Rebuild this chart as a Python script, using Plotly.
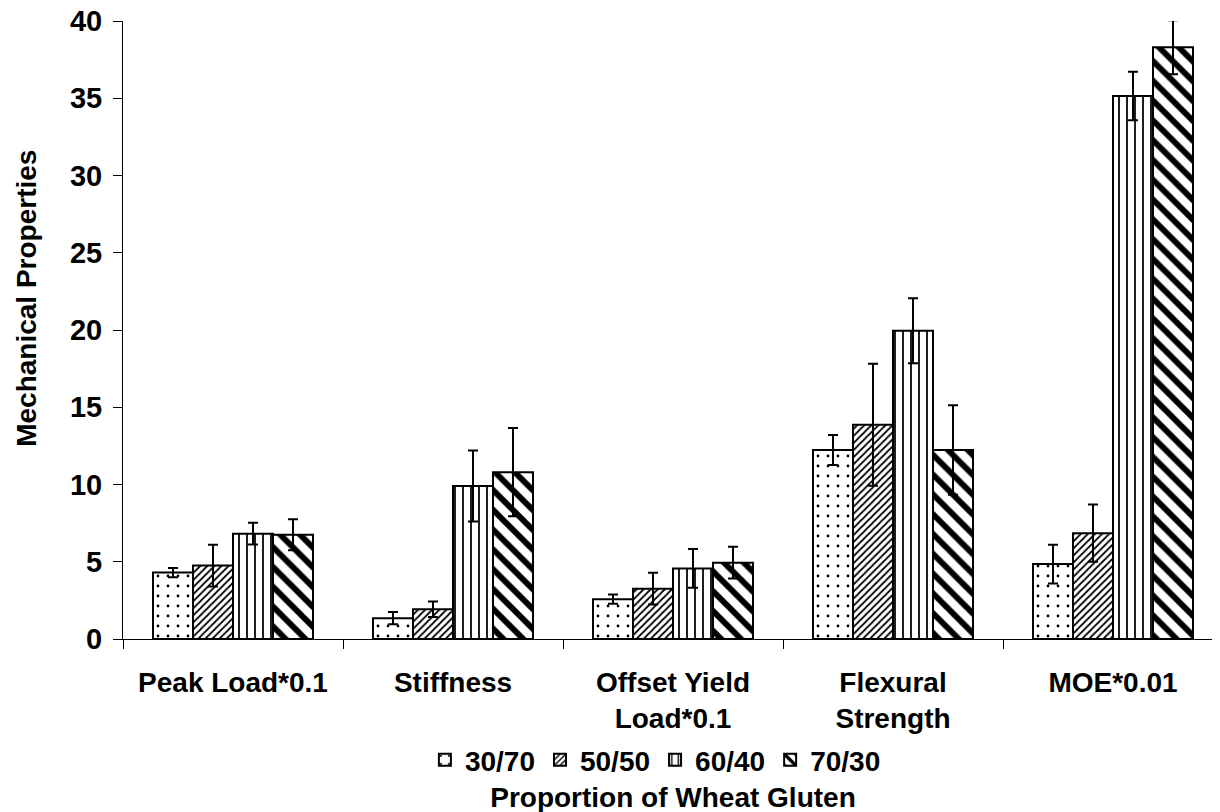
import plotly.graph_objects as go

categories = ["Peak Load*0.1", "Stiffness", "Offset Yield<br>Load*0.1", "Flexural<br>Strength", "MOE*0.01"]
series_names = ["30/70", "50/50", "60/40", "70/30"]

values_30_70 = [4.3, 1.35, 2.58, 12.23, 4.85]
values_50_50 = [4.75, 1.93, 3.26, 13.87, 6.85]
values_60_40 = [6.82, 9.9, 4.57, 19.95, 35.15]
values_70_30 = [6.75, 10.8, 4.94, 12.23, 38.3]

err_30_70 = [0.3, 0.4, 0.3, 0.97, 1.25]
err_50_50 = [1.35, 0.5, 1.02, 3.95, 1.85]
err_60_40 = [0.7, 2.3, 1.26, 2.1, 1.57]
err_70_30 = [1.0, 2.85, 1.03, 2.9, 1.75]

y_ticks = [0, 5, 10, 15, 20, 25, 30, 35, 40]

all_values = [values_30_70, values_50_50, values_60_40, values_70_30]
all_errs = [err_30_70, err_50_50, err_60_40, err_70_30]
patterns = [
    dict(shape=".", size=10, solidity=0.06, fgcolor="black", fgopacity=1, bgcolor="white", fillmode="overlay"),
    dict(shape="/", size=5, solidity=0.35, fgcolor="black", fgopacity=1, bgcolor="white", fillmode="overlay"),
    dict(shape="|", size=8, solidity=0.22, fgcolor="black", fgopacity=1, bgcolor="white", fillmode="overlay"),
    dict(shape="\\", size=14, solidity=0.42, fgcolor="black", fgopacity=1, bgcolor="white", fillmode="overlay"),
]

FONT = "Liberation Sans, Arial, sans-serif"

def bold(size):
    return dict(family=FONT, size=size, color="black", weight="bold")

fig = go.Figure()
for name, vals, errs, pat in zip(series_names, all_values, all_errs, patterns):
    fig.add_trace(go.Bar(
        name=name,
        x=categories,
        y=vals,
        marker=dict(color="white", line=dict(color="black", width=2), pattern=pat),
        error_y=dict(type="data", array=errs, visible=True, color="black", thickness=2, width=5),
    ))

fig.update_layout(
    width=1220, height=812,
    margin=dict(l=115, r=5, t=13, b=181),
    paper_bgcolor="white", plot_bgcolor="white",
    barmode="group", bargap=0.2727, bargroupgap=0,
    font=bold(28),
    showlegend=True,
    legend=dict(orientation="h", x=0.484, xanchor="center", y=-0.196, yanchor="middle",
                font=bold(28), itemwidth=30, tracegroupgap=0, bgcolor="rgba(0,0,0,0)"),
    annotations=[dict(
        text="Mechanical Properties", textangle=-90,
        xref="paper", yref="paper", x=-0.0873, y=0.552,
        xanchor="center", yanchor="middle", showarrow=False,
        font=bold(28),
    )],
)
fig.update_xaxes(
    type="category",
    range=[-0.5, 4.5],
    showline=True, linecolor="black", linewidth=1,
    ticks="outside", tickson="boundaries", ticklen=9, tickcolor="black", tickwidth=1,
    showgrid=False, zeroline=False,
    tickfont=bold(28),
    ticklabelstandoff=18,
    ticklabeloverflow="allow",
    title=dict(text="Proportion of Wheat Gluten", standoff=54, font=bold(28)),
    automargin=False,
)
fig.update_yaxes(
    range=[0, 40], tickvals=y_ticks,
    showline=True, linecolor="black", linewidth=1,
    ticks="outside", ticklen=9, tickcolor="black", tickwidth=1,
    showgrid=False, zeroline=False,
    tickfont=bold(29),
    ticklabelstandoff=5,
    ticklabeloverflow="allow",
    automargin=False,
)

fig.write_html("out.html")
